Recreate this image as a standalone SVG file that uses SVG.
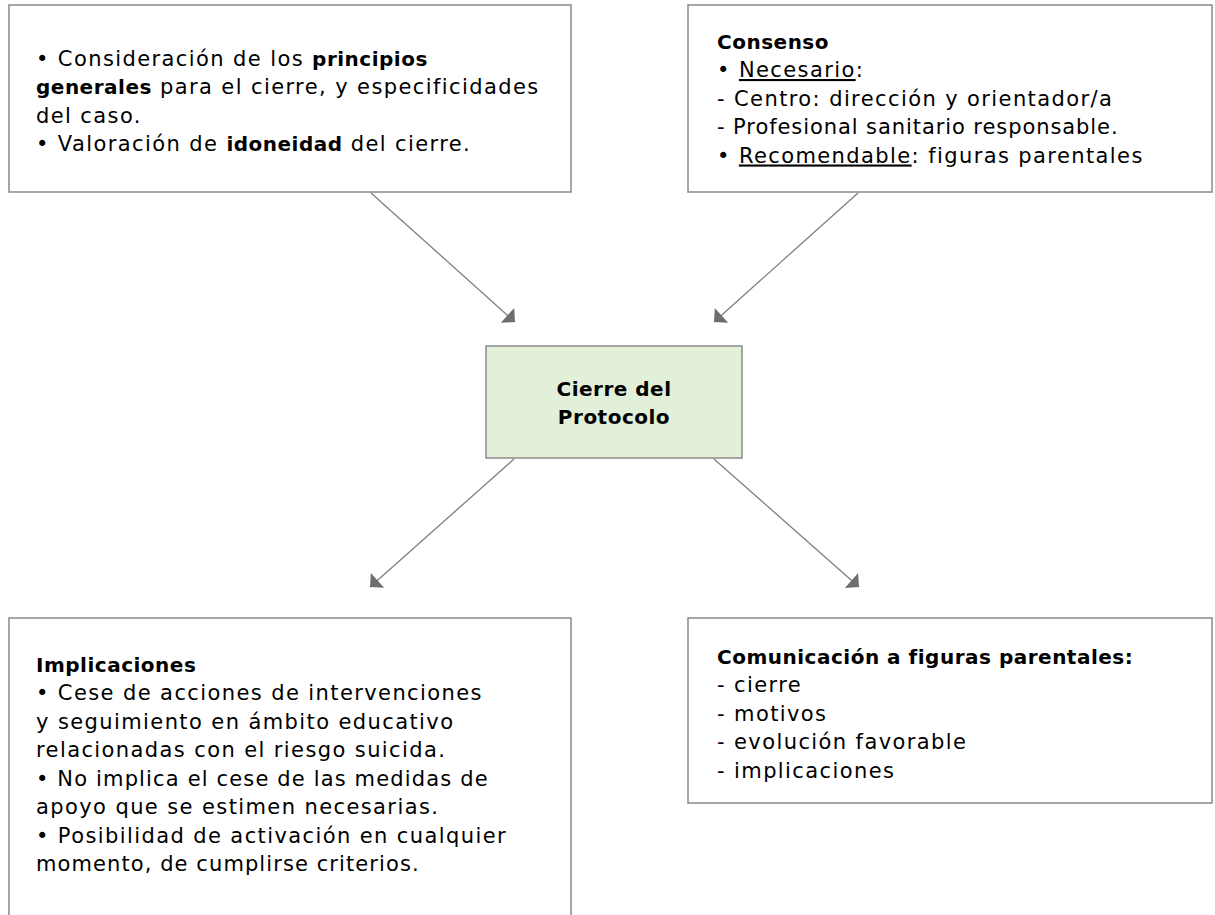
<svg xmlns="http://www.w3.org/2000/svg" width="1215" height="915" viewBox="0 0 1215 915">
<style>
.box{fill:#ffffff;stroke:#8a8a8a;stroke-width:1.5}
.center{fill:#e2efd9;stroke:#8a8a8a;stroke-width:1.5}
.t{font-family:"DejaVu Sans",sans-serif;font-size:21px;fill:#000;letter-spacing:1.4px}
.b{font-weight:bold;font-size:20px;letter-spacing:0.5px}
.c{text-anchor:middle}
.u{text-decoration:underline}
.conn{stroke:#7f7f7f;stroke-width:1.3;fill:none;marker-end:url(#ah)}
</style>
<defs>
<marker id="ah" markerUnits="userSpaceOnUse" markerWidth="24" markerHeight="24" viewBox="-12 -12 24 24" refX="0" refY="0" orient="auto">
<path d="M0,0 L-10,-10 L-10,10 Z" fill="#6d6e71"/>
</marker>
</defs>
<rect width="1215" height="915" fill="#ffffff"/>
<g id="connectors">
<line class="conn" x1="371" y1="193" x2="515" y2="322"/>
<line class="conn" x1="858" y1="193" x2="714" y2="322"/>
<line class="conn" x1="514" y1="459" x2="370" y2="587"/>
<line class="conn" x1="714" y1="459" x2="859" y2="587"/>
</g>
<g id="node-principios">
<rect class="box" x="9" y="5" width="562" height="187"/>
<text class="t" x="36" y="65.5">• Consideración de los <tspan class="b">principios</tspan></text>
<text class="t" x="36" y="94"><tspan class="b">generales</tspan> para el cierre, y especificidades</text>
<text class="t" x="36" y="122.5">del caso.</text>
<text class="t" x="36" y="151">• Valoración de <tspan class="b">idoneidad</tspan> del cierre.</text>
</g>
<g id="node-consenso">
<rect class="box" x="688" y="5" width="524" height="187"/>
<text class="t b" x="717" y="48.5">Consenso</text>
<text class="t" x="717" y="77">• <tspan class="u">Necesario</tspan>:</text>
<text class="t" x="717" y="105.5">- Centro: dirección y orientador/a</text>
<text class="t" x="717" y="134" textLength="402" lengthAdjust="spacing">- Profesional sanitario responsable.</text>
<text class="t" x="717" y="162.5">• <tspan class="u">Recomendable</tspan>: figuras parentales</text>
</g>
<g id="node-cierre">
<rect class="center" x="486" y="346" width="256" height="112"/>
<text class="t b c" x="614" y="395.5">Cierre del</text>
<text class="t b c" x="614" y="424">Protocolo</text>
</g>
<g id="node-implicaciones">
<rect class="box" x="9" y="618" width="562" height="310"/>
<text class="t b" x="36" y="671.5">Implicaciones</text>
<text class="t" x="36" y="700">• Cese de acciones de intervenciones</text>
<text class="t" x="36" y="728.5">y seguimiento en ámbito educativo</text>
<text class="t" x="36" y="757">relacionadas con el riesgo suicida.</text>
<text class="t" x="36" y="785.5" textLength="453" lengthAdjust="spacing">• No implica el cese de las medidas de</text>
<text class="t" x="36" y="814">apoyo que se estimen necesarias.</text>
<text class="t" x="36" y="842.5">• Posibilidad de activación en cualquier</text>
<text class="t" x="36" y="871" textLength="384" lengthAdjust="spacing">momento, de cumplirse criterios.</text>
</g>
<g id="node-comunicacion">
<rect class="box" x="688" y="618" width="524" height="185"/>
<text class="t b" x="717" y="663.5">Comunicación a figuras parentales:</text>
<text class="t" x="717" y="692">- cierre</text>
<text class="t" x="717" y="720.5">- motivos</text>
<text class="t" x="717" y="749">- evolución favorable</text>
<text class="t" x="717" y="777.5">- implicaciones</text>
</g>
</svg>
